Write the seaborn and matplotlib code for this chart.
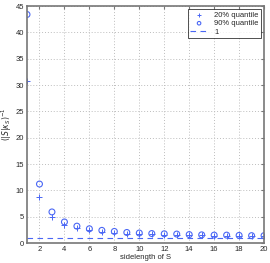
import numpy as np
import pandas as pd
import matplotlib
matplotlib.use("Agg")
import matplotlib.pyplot as plt
import seaborn as sns

# sidelength of S and the two quantiles
sidelength = list(range(1, 21))
q20 = [30.8, 8.8, 4.9, 3.5, 2.8, 2.4, 2.1, 1.95, 1.8, 1.7,
       1.65, 1.6, 1.55, 1.5, 1.45, 1.4, 1.4, 1.35, 1.3, 1.3]
q90 = [43.4, 11.2, 5.9, 4.0, 3.2, 2.7, 2.4, 2.2, 2.0, 1.9,
       1.8, 1.75, 1.7, 1.6, 1.55, 1.5, 1.5, 1.45, 1.4, 1.4]
ref_level = [1, 1]

df = pd.DataFrame({"sidelength": sidelength, "q20": q20, "q90": q90})

sns.set_style("white")
plt.rcParams['font.family'] = ['Liberation Sans', 'DejaVu Sans']

blue = "#4a67f5"
fig = plt.figure(figsize=(2.7, 2.63), dpi=100)
ax = fig.add_axes([0.1, 0.076, 0.878, 0.901])

sns.scatterplot(data=df, x="sidelength", y="q20", marker="+", color=blue,
                s=24, linewidth=0.7, ax=ax, label="20% quantile")
sns.scatterplot(data=df, x="sidelength", y="q90", marker="o", facecolor="none",
                edgecolor=blue, s=18, linewidth=0.8, ax=ax, label="90% quantile")
sns.lineplot(x=[1, 20], y=ref_level, color=blue, linestyle=(0, (5, 4)),
             linewidth=0.8, ax=ax, label="1")

ax.set_xlim(1, 20)
ax.set_ylim(0, 45)
ax.set_xticks(range(2, 21, 2))
ax.set_yticks(range(0, 46, 5))
ax.grid(True, color="#bdbdbd", linestyle=(0, (1, 2)), linewidth=0.7)
ax.tick_params(labelsize=5.5, length=2, direction="in", top=True, right=True,
               pad=2, color="#777777")
for s in ax.spines.values():
    s.set_color("#777777")
    s.set_linewidth(1.2)
ax.set_xlabel("sidelength of S", fontsize=5.5, labelpad=1)
ax.set_ylabel(r"$(|S|\kappa_S)^{-1}$", fontsize=5.5, labelpad=1)

leg = ax.legend(loc="upper right", fontsize=5.5, frameon=True, fancybox=False,
                borderpad=0.3, handlelength=2.4, labelspacing=0.15,
                borderaxespad=0.4, markerscale=0.6)
leg.get_frame().set_edgecolor("black")
leg.get_frame().set_linewidth(0.6)

fig.savefig("out.png", dpi=100)
